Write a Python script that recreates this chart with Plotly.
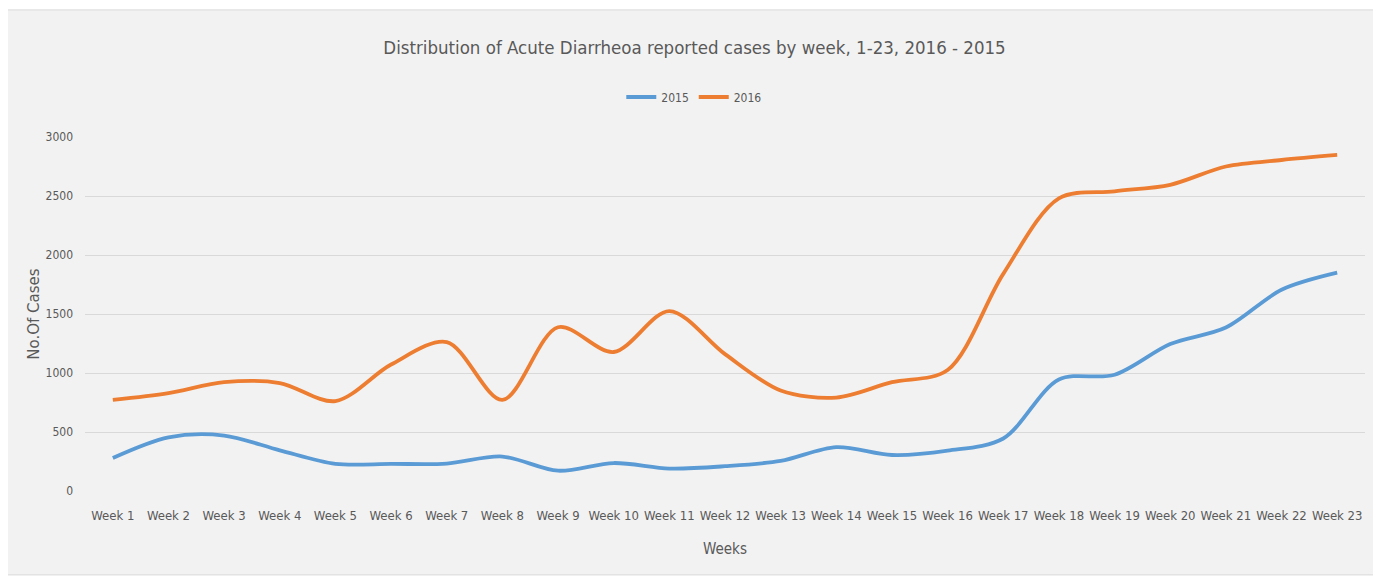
import plotly.graph_objects as go

weeks = ['Week {}'.format(i) for i in range(1, 24)]
cases_2015 = [280, 455, 470, 345, 230, 230, 232, 292, 172, 237, 190, 210,
              255, 372, 305, 342, 445, 945, 985, 1245, 1385, 1705, 1850]
cases_2016 = [772, 830, 922, 915, 762, 1072, 1262, 772, 1388, 1178, 1525, 1160,
              852, 792, 922, 1025, 1840, 2480, 2540, 2595, 2750, 2805, 2848]

FONT = 'Liberation Sans Narrow, DejaVu Sans Condensed, sans-serif'
GREY = '#595959'

fig = go.Figure()
fig.add_trace(go.Scatter(x=weeks, y=cases_2015, name='2015', mode='lines',
                         line=dict(color='#5b9bd5', width=3.8, shape='spline', smoothing=0.9)))
fig.add_trace(go.Scatter(x=weeks, y=cases_2016, name='2016', mode='lines',
                         line=dict(color='#ed7d31', width=3.8, shape='spline', smoothing=0.9)))

# light grey chart box with thin border (Excel style)
fig.add_shape(type='rect', xref='paper', yref='paper', layer='below',
              x0=-0.0625, x1=1.0078, y0=-0.237, y1=1.359,
              fillcolor='#f2f2f2', line=dict(color='#d9d9d9', width=1))

# page body has an 8px margin, so the figure is 8px smaller
fig.update_layout(
    width=1373, height=574,
    margin=dict(l=77, r=16, t=129, b=91),
    paper_bgcolor='white', plot_bgcolor='rgba(0,0,0,0)',
    font=dict(family=FONT, color=GREY, size=13),
    title=dict(text='Distribution of Acute Diarrheoa reported cases by week, 1-23, 2016 - 2015',
               x=0.5, xanchor='center', xref='container', y=0.932, yanchor='middle',
               font=dict(size=18.5, color=GREY, family=FONT)),
    legend=dict(orientation='h', x=0.476, xanchor='center', y=1.113, yanchor='middle',
                font=dict(size=12, color=GREY), bgcolor='rgba(0,0,0,0)',
                itemwidth=30, tracegroupgap=0),
    showlegend=True,
)
fig.update_xaxes(title=dict(text='Weeks', font=dict(size=15, color=GREY), standoff=21),
                 range=[-0.5, 22.5], showgrid=False, showline=False, ticks='',
                 automargin=False, ticklabelstandoff=15,
                 tickfont=dict(size=13, color=GREY))
fig.update_yaxes(title=dict(text='No.Of Cases', font=dict(size=15, color=GREY, family='DejaVu Sans'),
                            standoff=2),
                 range=[0, 3000], tickvals=[0, 500, 1000, 1500, 2000, 2500, 3000],
                 gridcolor='#d9d9d9', gridwidth=1, zeroline=False, showline=False,
                 automargin=False, ticks='', ticklabelstandoff=11,
                 tickfont=dict(size=12, color=GREY))

fig.write_html('out.html')
